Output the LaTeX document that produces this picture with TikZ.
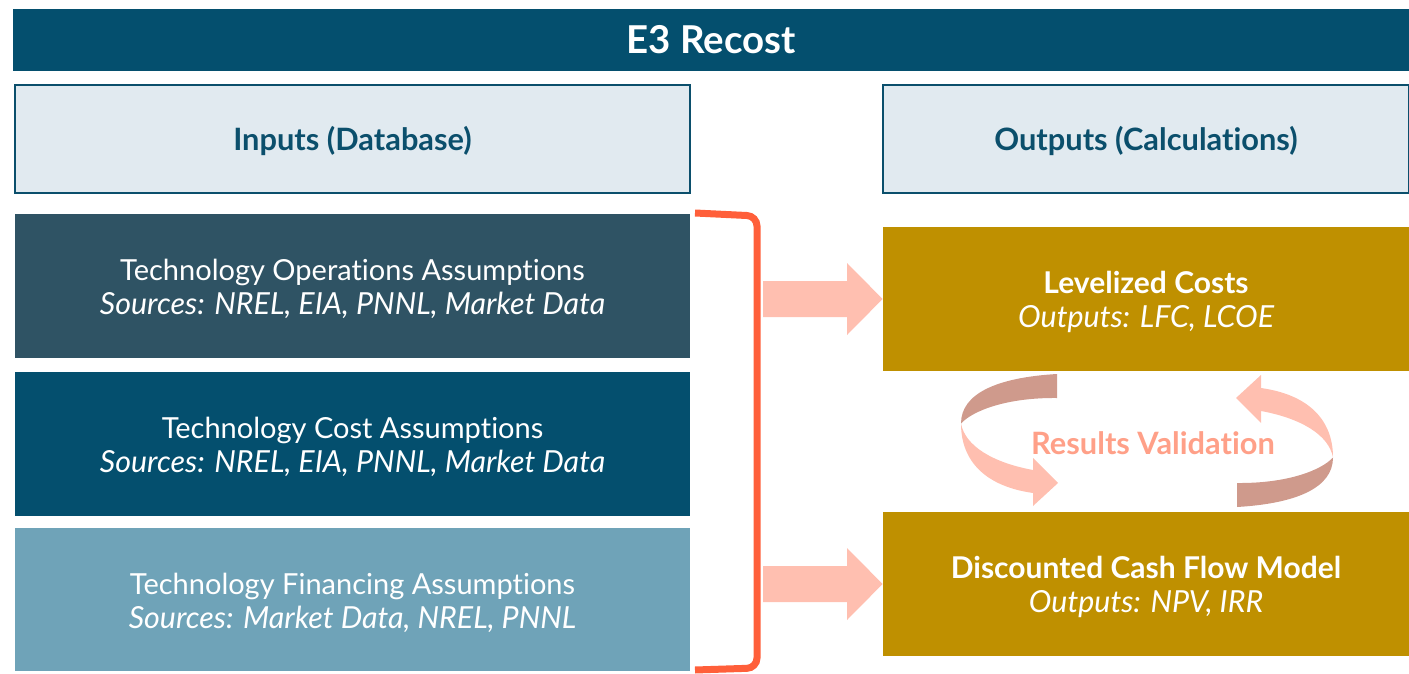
\documentclass[tikz,border=0pt]{standalone}
\usepackage{fontspec}
\setmainfont{Lato}[Ligatures={NoCommon}]
\definecolor{navy}{HTML}{044F6E}
\definecolor{hdrfill}{HTML}{E1EAF0}
\definecolor{hdrtext}{HTML}{0B4F6C}
\definecolor{slate}{HTML}{2F5364}
\definecolor{steel}{HTML}{6FA3B8}
\definecolor{gold}{HTML}{BF9000}
\definecolor{salmon}{HTML}{FFBFB0}
\definecolor{rosedark}{HTML}{CF9A8C}
\definecolor{bracketred}{HTML}{FF5F3A}
\definecolor{valtext}{HTML}{FFA088}
\newcommand\srcit[1]{{\itshape\fontsize{15.2}{17}\selectfont #1}}
\newcommand\bfl[1]{{\bfseries\fontsize{15}{17}\selectfont #1}}
\newcommand\pushdown{\rule{0pt}{14pt}}
\tikzset{
  box/.style={inner sep=0pt, align=center, text=white,
    font=\fontsize{14.5}{17}\selectfont},
  hdr/.style={draw=hdrtext, line width=1pt, fill=hdrfill, inner sep=0pt,
    minimum width=#1, minimum height=54pt, text=hdrtext,
    font=\bfseries\fontsize{15.4}{17}\selectfont},
  blockarrow/.style={fill=salmon, draw=none},
}
\begin{document}
\begin{tikzpicture}[x=0.5pt,y=-0.5pt]
\useasboundingbox (0,0) rectangle (1409,674);
% title
\node[box, fill=navy, minimum width=698pt, minimum height=31pt,
  font=\bfseries\fontsize{19.2}{24}\selectfont] (title) at (711,40) {E3 Recost};
% headers
\node[hdr=337.5pt] (inh) at (352.5,139) {\pushdown Inputs (Database)};
\node[hdr=263pt] (outh) at (1146,139) {\pushdown Outputs (Calculations)};
% input boxes
\node[box, fill=slate, minimum width=337.5pt, minimum height=72pt] (b1) at (352.5,286)
  {\pushdown Technology Operations Assumptions\\ \srcit{Sources: NREL, EIA, PNNL, Market Data}};
\node[box, fill=navy, minimum width=337.5pt, minimum height=72pt] (b2) at (352.5,444)
  {\pushdown Technology Cost Assumptions\\ \srcit{Sources: NREL, EIA, PNNL, Market Data}};
\node[box, fill=steel, minimum width=337.5pt, minimum height=71.5pt] (b3) at (352.5,599.5)
  {\pushdown Technology Financing Assumptions\\ \srcit{Sources: Market Data, NREL, PNNL}};
% output boxes
\node[box, fill=gold, minimum width=263pt, minimum height=72pt] (lev) at (1146,299)
  {\pushdown\bfl{Levelized Costs}\\ \srcit{Outputs: LFC, LCOE}};
\node[box, fill=gold, minimum width=263pt, minimum height=72pt] (dcf) at (1146,584)
  {\pushdown\bfl{Discounted Cash Flow Model}\\ \srcit{Outputs: NPV, IRR}};
% bracket
\coordinate (bt) at (695,213);
\coordinate (bb) at (695,670);
\draw[bracketred, line width=3.5pt, rounded corners=5pt]
  (bt) -- (757,216) -- (757,668) -- (bb);
% block arrows
\fill[blockarrow] (763,281) -- (847,281) -- (847,263) -- (lev.west) -- (847,335) -- (847,317) -- (763,317) -- cycle;
\fill[blockarrow] (763,566) -- (847,566) -- (847,548) -- (dcf.west) -- (847,620) -- (847,602) -- (763,602) -- cycle;
% ring arrows
\newcommand\ringdarkpath{(-90,-66.5) .. controls (-150,-63) and (-186,-47) .. (-186,-17) .. controls (-174,-30) and (-140,-43) .. (-90,-42.5) -- cycle}
\newcommand\ringlightpath{(-186,-17) .. controls (-186,22) and (-160,46) .. (-114,52.5) -- (-114,65.5) -- (-89,42.5) -- (-114,17.5) -- (-114,29.5) .. controls (-155,22) and (-182,5) .. (-186,-17) -- cycle}
\begin{scope}[shift={(1147,440.5)}]
  \fill[rosedark] \ringdarkpath;
  \fill[salmon] \ringlightpath;
\end{scope}
\begin{scope}[shift={(1147,440.5)}, rotate=180]
  \fill[rosedark] \ringdarkpath;
  \fill[salmon] \ringlightpath;
\end{scope}
\node[text=valtext, font=\bfseries\fontsize{15.4}{17}\selectfont, inner sep=0pt] (val) at (1153,443) {Results Validation};
\end{tikzpicture}
\end{document}
